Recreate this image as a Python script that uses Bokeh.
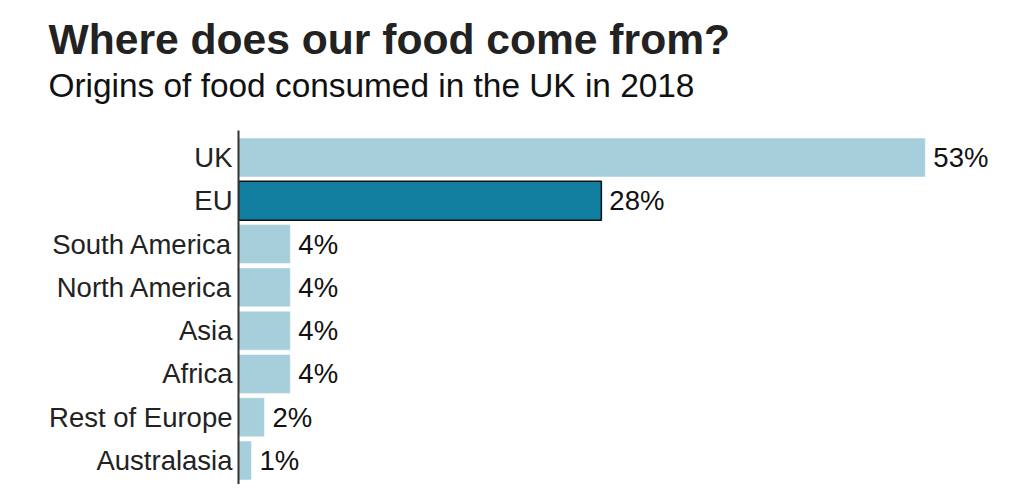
from bokeh.plotting import figure
from bokeh.models import Range1d, FixedTicker, Title, ColumnDataSource
from bokeh.embed import file_html
from bokeh.resources import INLINE
from bokeh.core.properties import value

categories = ["UK", "EU", "South America", "North America", "Asia", "Africa", "Rest of Europe", "Australasia"]
shares = [53, 28, 4, 4, 4, 4, 2, 1]
highlight = [False, True, False, False, False, False, False, False]

LIGHT = "#a6cedb"
DARK = "#127fa0"

pos = list(range(1, len(categories) + 1))
src = ColumnDataSource(dict(
    y=pos,
    v=shares,
    lab=[f"{s}%" for s in shares],
    fill=[DARK if h else LIGHT for h in highlight],
    line=["#111111" if h else "#ffffff" for h in highlight],
    lw=[1.5 if h else 0.5 for h in highlight],
))

p = figure(width=1024, height=484, output_backend="svg", toolbar_location=None,
           x_range=Range1d(0, 59.88), y_range=Range1d(8.554, 0.376),
           x_axis_location=None, min_border_left=238, min_border_right=10,
           min_border_bottom=0, min_border_top=130)

p.hbar(y="y", right="v", left=0, height=0.9, source=src, fill_color="fill",
       line_color="line", line_width="lw")
p.text(x="v", y="y", text="lab", source=src, x_offset=8, text_baseline="middle",
       text_align="left", text_font=value("Liberation Sans"), text_font_size="27.5px",
       text_color="#111111")

ax = p.yaxis[0]
ax.ticker = FixedTicker(ticks=pos)
ax.major_label_overrides = {i: c for i, c in zip(pos, categories)}
ax.major_tick_line_color = None
ax.major_tick_out = 0
ax.major_tick_in = 0
ax.minor_tick_line_color = None
ax.minor_tick_out = 0
ax.axis_line_color = "#333333"
ax.axis_line_width = 2
ax.major_label_text_font = "Liberation Sans"
ax.major_label_text_font_size = "27.5px"
ax.major_label_text_color = "#222222"
ax.major_label_standoff = 6

p.grid.visible = False
p.outline_line_color = None

p.add_layout(Title(text="Origins of food consumed in the UK in 2018", align="left", offset=-190,
                   standoff=54,
                   text_font="Liberation Sans", text_font_size="33.4px", text_font_style="normal",
                   text_color="#111111"), "above")
p.add_layout(Title(text="Where does our food come from?", align="left", offset=-190,
                   standoff=-50,
                   text_font="Liberation Sans", text_font_size="42.6px", text_font_style="bold",
                   text_color="#222222"), "above")

open("out.html", "w").write(file_html(p, INLINE))
